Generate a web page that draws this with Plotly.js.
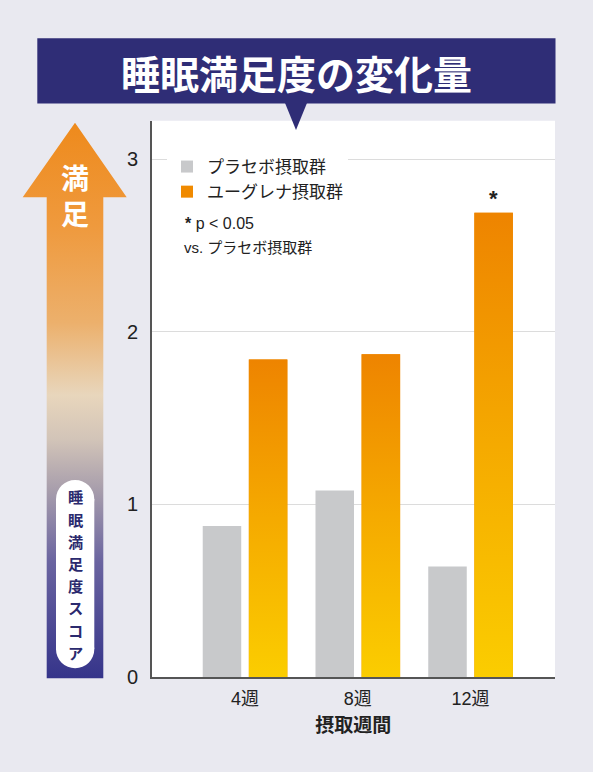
<!DOCTYPE html>
<html>
<head>
<meta charset="utf-8">
<script src="https://cdn.plot.ly/plotly-3.0.1.min.js"></script>
<style>html,body{margin:0;padding:0;background:#e9e9f0;}</style>
</head>
<body>
<div id="chart" style="width:593px;height:772px;"></div>
<script>
// ---- data ----
const categories = ['4週', '8週', '12週'];
const placeboValues = [0.875, 1.08, 0.64];
const euglenaValues = [1.84, 1.87, 2.69];
const seriesNames = ['プラセボ摂取群', 'ユーグレナ摂取群'];
const yTickVals = [0, 1, 2, 3];
const significance = ['', '', '*'];

// ---- page geometry helpers (pixels -> paper) ----
const W = 593, H = 772;
const PX = p => p / W;
const PY = p => 1 - p / H;
const FONT = 'Liberation Sans, Arial, Noto Sans CJK JP, sans-serif';
const JFONT = 'Noto Sans CJK JP, sans-serif';
const NAVY = '#2f2d76';

const xIdx = categories.map((c, i) => i);
const BAR_W = 0.3415;
const OFF_P = -0.375, OFF_E = 0.034;

const traces = [];
traces.push({
  type: 'bar', name: seriesNames[0], x: xIdx, y: placeboValues,
  width: BAR_W, offset: OFF_P, marker: {color: '#c8c9cb', line: {width: 0}},
  hoverinfo: 'skip', xaxis: 'x', yaxis: 'y'
});
traces.push({
  type: 'bar', name: seriesNames[1], x: xIdx, y: euglenaValues,
  width: BAR_W, offset: OFF_E, marker: {color: '#f08a00', line: {width: 0}},
  hoverinfo: 'skip', xaxis: 'x', yaxis: 'y'
});
// gradient overlay for the euglena bars (built from the same data)
euglenaValues.forEach((v, i) => {
  const x0 = i + OFF_E, x1 = i + OFF_E + BAR_W;
  traces.push({
    type: 'scatter', mode: 'lines', x: [x0, x1, x1, x0, x0], y: [0, 0, v, v, 0],
    fill: 'toself', line: {width: 0, color: 'rgba(0,0,0,0)'},
    fillgradient: {type: 'vertical', colorscale: [[0, '#fbcd00'], [0.5, '#f5aa00'], [1, '#ee8400']]},
    showlegend: false, hoverinfo: 'skip', xaxis: 'x', yaxis: 'y'
  });
});
// left decorative arrow (pixel-space axes)
traces.push({
  type: 'scatter', mode: 'lines',
  x: [75, 126.7, 103.3, 103.3, 46.7, 46.7, 22.7, 75],
  y: [122.7, 197.3, 197.3, 678.3, 678.3, 197.3, 197.3, 122.7],
  fill: 'toself', line: {width: 0, color: 'rgba(0,0,0,0)'},
  fillgradient: {type: 'vertical', start: 678.3, stop: 122.7, colorscale: [
    [0, '#35348a'], [0.21, '#6a64a0'], [0.34, '#a89eac'], [0.43, '#d2c4b8'],
    [0.51, '#e8d6bc'], [0.64, '#ecb06c'], [0.81, '#ef9a3e'], [1, '#ee8a1c']]},
  showlegend: false, hoverinfo: 'skip', xaxis: 'x2', yaxis: 'y2'
});

const shapes = [
  // white plot area
  {type: 'rect', xref: 'paper', yref: 'paper', x0: PX(151.7), x1: PX(555), y0: PY(677), y1: PY(120.7),
   fillcolor: 'white', line: {width: 0}, layer: 'below'},
  // banner
  {type: 'rect', xref: 'paper', yref: 'paper', x0: PX(37.3), x1: PX(555.5), y0: PY(103.5), y1: PY(38.3),
   fillcolor: NAVY, line: {width: 0}, layer: 'above'},
  {type: 'path', xref: 'paper', yref: 'paper',
   path: `M${PX(285)},${PY(103)} L${PX(307)},${PY(103)} L${PX(296)},${PY(130)} Z`,
   fillcolor: NAVY, line: {width: 0}, layer: 'above'},
  // white rounded label box
  {type: 'rect', xref: 'paper', yref: 'paper', x0: PX(56), x1: PX(94.3), y0: PY(649), y1: PY(499),
   fillcolor: 'white', line: {width: 0}, layer: 'above'},
  {type: 'circle', xref: 'paper', yref: 'paper', x0: PX(56), x1: PX(94.3), y0: PY(518.3), y1: PY(480),
   fillcolor: 'white', line: {width: 0}, layer: 'above'},
  {type: 'circle', xref: 'paper', yref: 'paper', x0: PX(56), x1: PX(94.3), y0: PY(668.3), y1: PY(630),
   fillcolor: 'white', line: {width: 0}, layer: 'above'}
];

const annotations = [
  {xref: 'paper', yref: 'paper', x: PX(296.3), y: PY(72), text: '<b>睡眠満足度の変化量</b>', showarrow: false,
   xanchor: 'center', yanchor: 'middle', font: {family: JFONT, size: 39, color: 'white'}},
  {xref: 'paper', yref: 'paper', x: PX(75), y: PY(195), text: '<b>満<br>足</b>', showarrow: false,
   xanchor: 'center', yanchor: 'middle', font: {family: JFONT, size: 28, color: 'white'}},
  {xref: 'paper', yref: 'paper', x: PX(183), y: PY(224), text: '<b>*</b> p < 0.05', showarrow: false,
   xanchor: 'left', yanchor: 'middle', font: {family: FONT, size: 16, color: '#222'}},
  {xref: 'paper', yref: 'paper', x: PX(182), y: PY(247), text: 'vs. プラセボ摂取群', showarrow: false,
   xanchor: 'left', yanchor: 'middle', font: {family: FONT, size: 15, color: '#222'}}
];
// vertical label, one character per line
Array.from('睡眠満足度スコア').forEach((ch, k) => {
  annotations.push({xref: 'paper', yref: 'paper', x: PX(75), y: PY(496.3 + 22.2 * k), text: '<b>' + ch + '</b>',
    showarrow: false, xanchor: 'center', yanchor: 'middle',
    font: {family: JFONT, size: 15.2, color: '#2b2a6e'}});
});
significance.forEach((s, i) => {
  if (!s) return;
  annotations.push({xref: 'x', yref: 'y', x: i + OFF_E + BAR_W / 2, y: euglenaValues[i], text: '<b>' + s + '</b>',
    showarrow: false, xanchor: 'center', yanchor: 'bottom', yshift: 0,
    font: {family: FONT, size: 22, color: '#222'}});
});

const layout = {
  width: W, height: H,
  margin: {l: 0, r: 0, t: 0, b: 0, pad: 0},
  paper_bgcolor: '#e9e9f0', plot_bgcolor: 'rgba(0,0,0,0)',
  showlegend: true,
  barmode: 'overlay',
  xaxis: {
    domain: [PX(151.7), PX(555)], range: [-0.8275, 2.749], anchor: 'y',
    tickmode: 'array', tickvals: xIdx, ticktext: categories,
    showgrid: false, zeroline: false, showline: true, linecolor: '#555', linewidth: 1.5,
    ticks: '', ticklabelstandoff: 5, fixedrange: true,
    tickfont: {family: FONT, size: 18, color: '#222'},
    title: {text: '<b>摂取週間</b>', standoff: 10, font: {family: JFONT, size: 19, color: '#222'}}
  },
  yaxis: {
    domain: [PY(677), PY(120.7)], range: [0, 3.223], anchor: 'x',
    tickmode: 'array', tickvals: yTickVals, ticktext: yTickVals.map(String),
    showgrid: true, gridcolor: '#dcdcdc', gridwidth: 1, zeroline: false,
    showline: true, linecolor: '#555', linewidth: 1.5, ticks: '', ticklabelstandoff: 8,
    tickfont: {family: FONT, size: 20, color: '#222'}, fixedrange: true
  },
  xaxis2: {domain: [0, 1], range: [0, W], anchor: 'y2', visible: false, fixedrange: true},
  yaxis2: {domain: [0, 1], range: [H, 0], anchor: 'x2', visible: false, fixedrange: true},
  legend: {
    x: PX(167), y: PY(149), xanchor: 'left', yanchor: 'top',
    bgcolor: 'white', borderwidth: 0, traceorder: 'normal',
    font: {family: FONT, size: 17, color: '#222'}, itemclick: false, itemdoubleclick: false
  },
  shapes: shapes,
  annotations: annotations
};

Plotly.newPlot('chart', traces, layout, {displayModeBar: false, staticPlot: true});
</script>
</body>
</html>
